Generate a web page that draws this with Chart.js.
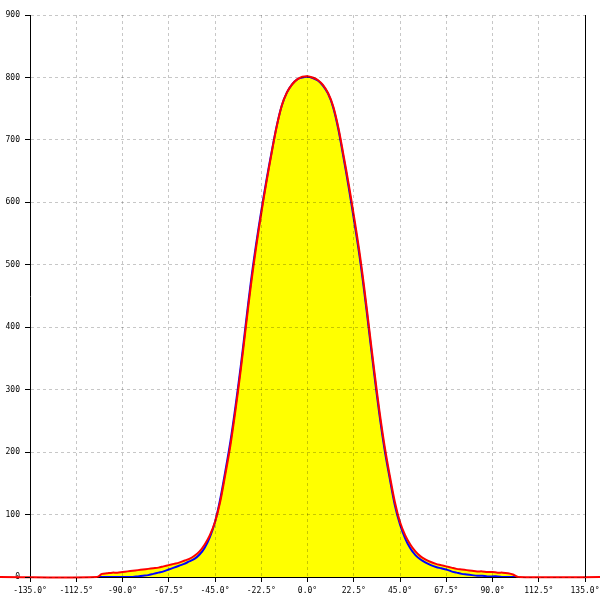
<!DOCTYPE html>
<html lang="en">
<head>
    <meta charset="UTF-8">
    <title>Angular distribution</title>
    <script src="https://cdn.jsdelivr.net/npm/chart.js"></script>
    <style>
        body { margin: 0; background: #fff; }
        canvas { display: block; }
    </style>
</head>
<body>
    <canvas id="chart" width="600" height="600"></canvas>
    <script>
        // angles in degrees, sampled every 2.5
        const angles = [
            -102.5, -100, -97.5, -95, -92.5, -90, -87.5, -85, -82.5, -80, -77.5, -75, -72.5, -70,
            -67.5, -65, -62.5, -60, -57.5, -55, -52.5, -50, -47.5, -45, -42.5, -40, -37.5, -35,
            -32.5, -30, -27.5, -25, -22.5, -20, -17.5, -15, -12.5, -10, -7.5, -5, -2.5, 0,
            2.5, 5, 7.5, 10, 12.5, 15, 17.5, 20, 22.5, 25, 27.5, 30, 32.5, 35, 37.5, 40,
            42.5, 45, 47.5, 50, 52.5, 55, 57.5, 60, 62.5, 65, 67.5, 70, 72.5, 75, 77.5, 80,
            82.5, 85, 87.5, 90, 92.5, 95, 97.5, 100, 102.5
        ];
        const redValues = [
            0, 5, 6, 7, 7, 8, 9, 10, 11, 12, 13, 14, 15, 17,
            19, 21, 23, 26, 29, 34, 41, 52, 67, 88, 120, 164, 211, 268,
            331, 400, 468, 528, 582, 632, 678, 721, 755, 776, 789, 797, 801, 802,
            800, 796, 788, 775, 754, 720, 676, 630, 580, 527, 466, 398, 330, 266, 210, 163,
            120, 88, 67, 52, 41, 33, 28, 24, 21, 19, 17, 15, 13, 12, 11, 10,
            9, 9, 8, 8, 7, 7, 6, 4, 0
        ];
        const blueValues = [
            0, 0, 0, 0, 0, 0, 0, 0, 1, 2, 3, 5, 7, 9,
            12, 15, 18, 21, 25, 29, 36, 47, 64, 88, 124, 169, 217, 274,
            337, 406, 474, 533, 586, 635, 680, 722, 755, 776, 789, 797, 800, 801,
            799, 795, 787, 774, 752, 717, 672, 625, 574, 521, 460, 392, 324, 260, 204, 158,
            115, 84, 62, 46, 35, 28, 23, 19, 16, 14, 12, 9, 7, 5, 4, 3,
            2, 2, 1, 1, 1, 0, 0, 0, 0
        ];
        // red baseline runs on past both ends of the axis
        const redBaseline = [-150, 150];

        const xTicks = [-135, -112.5, -90, -67.5, -45, -22.5, 0, 22.5, 45, 67.5, 90, 112.5, 135];
        const yTicks = [0, 100, 200, 300, 400, 500, 600, 700, 800, 900];

        const redData = [{ x: redBaseline[0], y: 0 }]
            .concat(angles.map((a, i) => ({ x: a, y: redValues[i] })))
            .concat([{ x: redBaseline[1], y: 0 }]);
        const blueData = angles.map((a, i) => ({ x: a, y: blueValues[i] }));

        const tickFont = { family: 'DejaVu Sans Mono', size: 8 };
        const gridGray = 'rgba(0,0,0,0.22)';

        const chart = new Chart(document.getElementById('chart').getContext('2d'), {
            type: 'line',
            data: {
                datasets: [
                    {
                        data: redData,
                        borderColor: '#ff0000',
                        borderWidth: 2,
                        backgroundColor: '#ffff00',
                        fill: 'origin',
                        pointRadius: 0,
                        tension: 0.35,
                        clip: false
                    },
                    {
                        data: blueData,
                        borderColor: '#0000ff',
                        borderWidth: 2,
                        fill: false,
                        pointRadius: 0,
                        tension: 0.35
                    }
                ]
            },
            options: {
                responsive: false,
                animation: false,
                devicePixelRatio: 1,
                layout: { padding: { top: 15, right: 15, left: 0, bottom: 0 } },
                plugins: {
                    legend: { display: false },
                    tooltip: { enabled: false },
                    // yellow area goes under both lines
                    filler: { drawTime: 'beforeDatasetsDraw' }
                },
                scales: {
                    x: {
                        type: 'linear',
                        min: -135,
                        max: 135,
                        afterBuildTicks: axis => { axis.ticks = xTicks.map(v => ({ value: v })); },
                        afterFit: axis => {
                            axis.height = 23;
                            axis.paddingLeft = 0;
                            axis.paddingRight = 0;
                        },
                        ticks: {
                            font: tickFont,
                            color: '#000',
                            padding: 4,
                            maxRotation: 0,
                            autoSkip: false,
                            callback: v => v.toFixed(1) + '°'
                        },
                        grid: {
                            z: 1,
                            color: ctx => (ctx.tick && ctx.tick.value === 135) ? '#000' : gridGray,
                            tickColor: '#000',
                            tickLength: 5,
                            tickBorderDash: []
                        },
                        border: {
                            color: '#000',
                            dash: ctx => (ctx.tick && ctx.tick.value !== 135) ? [3, 3] : []
                        }
                    },
                    y: {
                        min: 0,
                        max: 900,
                        afterBuildTicks: axis => { axis.ticks = yTicks.map(v => ({ value: v })); },
                        afterFit: axis => {
                            axis.width = 30;
                            axis.paddingTop = 0;
                            axis.paddingBottom = 0;
                        },
                        ticks: {
                            font: tickFont,
                            color: '#000',
                            padding: 5
                        },
                        grid: {
                            z: 1,
                            color: gridGray,
                            tickColor: '#000',
                            tickLength: 5,
                            tickBorderDash: []
                        },
                        border: {
                            color: '#000',
                            dash: ctx => ctx.tick ? [3, 3] : []
                        }
                    }
                }
            }
        });
        // the axis lines sit under the data but their position is only known after the grid has been drawn once
        chart.draw();
    </script>
</body>
</html>
